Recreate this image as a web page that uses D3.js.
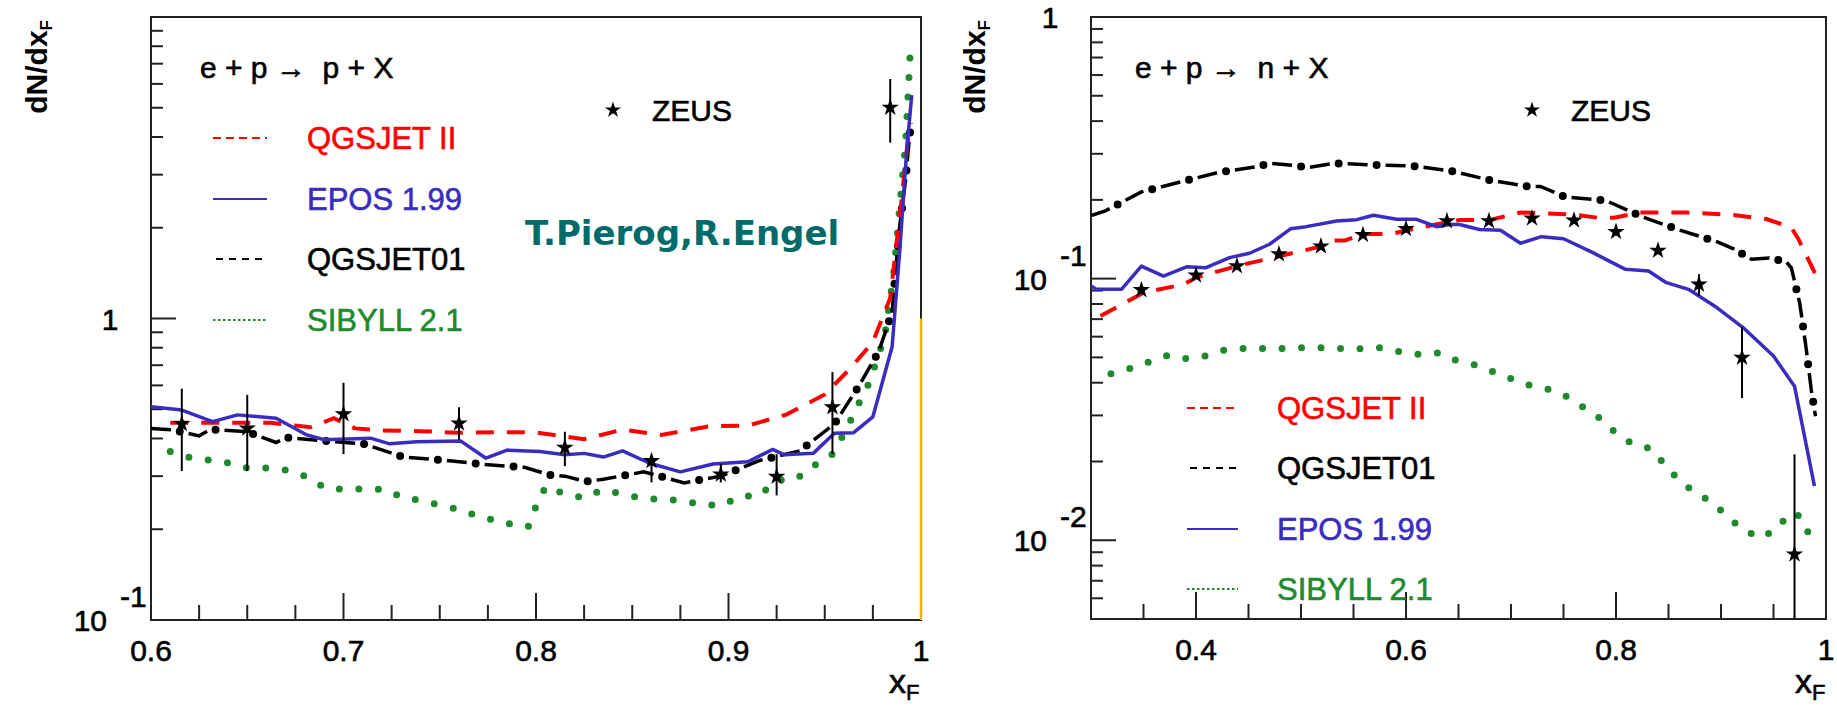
<!DOCTYPE html>
<html>
<head>
<meta charset="utf-8">
<script src="https://cdn.jsdelivr.net/npm/d3@7"></script>
<style>
  body { margin: 0; background: #fff; }
  svg text { font-family: "Liberation Sans", Arial, sans-serif; }
</style>
</head>
<body>
<svg id="chart" width="1837" height="711"></svg>
<script>
// ---------- data: left panel, e + p -> p + X ----------
const pZeusX  = [0.616, 0.650, 0.700, 0.760, 0.815, 0.860, 0.896, 0.925, 0.954, 0.984];
const pZeusY  = [0.447, 0.432, 0.482, 0.449, 0.373, 0.337, 0.304, 0.299, 0.508, 5.01];
const pZeusLo = [0.312, 0.312, 0.355, 0.396, 0.324, 0.286, 0.286, 0.259, 0.355, 3.83];
const pZeusHi = [0.585, 0.558, 0.612, 0.508, 0.421, 0.350, 0.329, 0.355, 0.664, 6.23];

const pQgsIIX = [0.610, 0.640, 0.662, 0.683, 0.695, 0.706, 0.720, 0.740, 0.760, 0.780, 0.800, 0.825, 0.845, 0.865, 0.890, 0.910, 0.930, 0.950, 0.963, 0.975, 0.984, 0.990, 0.994];
const pQgsIIY = [0.451, 0.451, 0.451, 0.436, 0.467, 0.432, 0.425, 0.423, 0.418, 0.420, 0.419, 0.398, 0.428, 0.411, 0.439, 0.441, 0.480, 0.560, 0.680, 0.835, 1.17, 2.50, 4.40];

const pEposX = [0.600, 0.616, 0.632, 0.645, 0.665, 0.681, 0.690, 0.714, 0.724, 0.738, 0.761, 0.774, 0.785, 0.802, 0.815, 0.825, 0.835, 0.845, 0.859, 0.875, 0.892, 0.910, 0.923, 0.929, 0.944, 0.955, 0.965, 0.975, 0.985, 0.989, 0.9926, 0.9952];
const pEposY = [0.510, 0.497, 0.455, 0.479, 0.467, 0.411, 0.396, 0.401, 0.384, 0.390, 0.392, 0.344, 0.366, 0.362, 0.353, 0.357, 0.347, 0.364, 0.331, 0.310, 0.329, 0.335, 0.368, 0.353, 0.357, 0.416, 0.418, 0.472, 0.806, 1.69, 3.62, 5.51];

const pQgs01X = [0.600, 0.611, 0.625, 0.631, 0.650, 0.665, 0.670, 0.690, 0.711, 0.731, 0.752, 0.773, 0.794, 0.807, 0.815, 0.826, 0.835, 0.856, 0.877, 0.896, 0.916, 0.937, 0.955, 0.967, 0.978, 0.985, 0.987, 0.989, 0.992, 0.994, 0.995];
const pQgs01Y = [0.432, 0.427, 0.408, 0.429, 0.421, 0.388, 0.403, 0.393, 0.383, 0.347, 0.339, 0.328, 0.321, 0.303, 0.300, 0.288, 0.293, 0.310, 0.285, 0.300, 0.338, 0.364, 0.447, 0.587, 0.776, 1.05, 1.49, 2.04, 2.88, 4.01, 4.44];

const pSibX = [0.610, 0.620, 0.630, 0.640, 0.650, 0.661, 0.671, 0.682, 0.690, 0.700, 0.711, 0.722, 0.731, 0.741, 0.751, 0.761, 0.771, 0.780, 0.789, 0.796, 0.800, 0.805, 0.814, 0.825, 0.834, 0.845, 0.855, 0.865, 0.876, 0.886, 0.897, 0.906, 0.916, 0.925, 0.935, 0.944, 0.954, 0.959, 0.964, 0.969, 0.974, 0.977, 0.981, 0.9856, 0.988, 0.990, 0.992, 0.9943];
const pSibY = [0.362, 0.346, 0.339, 0.332, 0.319, 0.319, 0.314, 0.297, 0.275, 0.271, 0.272, 0.271, 0.254, 0.249, 0.239, 0.232, 0.219, 0.214, 0.206, 0.204, 0.238, 0.277, 0.263, 0.254, 0.270, 0.262, 0.253, 0.251, 0.249, 0.241, 0.240, 0.258, 0.258, 0.291, 0.293, 0.324, 0.355, 0.404, 0.467, 0.544, 0.628, 0.732, 0.86, 1.37, 2.0, 2.8, 3.8, 7.4];

// ---------- data: right panel, e + p -> n + X ----------
const nZeusX  = [0.348, 0.400, 0.439, 0.479, 0.519, 0.559, 0.600, 0.639, 0.679, 0.720, 0.760, 0.800, 0.840, 0.879, 0.920, 0.970];
const nZeusY  = [0.0905, 0.103, 0.1117, 0.124, 0.133, 0.147, 0.155, 0.166, 0.166, 0.170, 0.167, 0.151, 0.128, 0.095, 0.0499, 0.00884];
const nZeusLo = [0.0905, 0.103, 0.1117, 0.124, 0.133, 0.147, 0.155, 0.166, 0.166, 0.170, 0.167, 0.146, 0.128, 0.0858, 0.035, 0.004];
const nZeusHi = [0.0905, 0.103, 0.1117, 0.124, 0.133, 0.147, 0.155, 0.166, 0.166, 0.170, 0.167, 0.157, 0.128, 0.104, 0.0655, 0.0213];

const nQgsIIX = [0.309, 0.350, 0.388, 0.400, 0.439, 0.480, 0.520, 0.531, 0.542, 0.559, 0.585, 0.613, 0.651, 0.680, 0.709, 0.759, 0.782, 0.798, 0.823, 0.867, 0.912, 0.943, 0.967, 0.974, 0.991];
const nQgsIIY = [0.0719, 0.0884, 0.095, 0.101, 0.1117, 0.122, 0.133, 0.140, 0.140, 0.148, 0.148, 0.1567, 0.1676, 0.1676, 0.179, 0.176, 0.171, 0.171, 0.179, 0.179, 0.175, 0.169, 0.157, 0.141, 0.102];

const nQgs01X = [0.300, 0.313, 0.348, 0.385, 0.421, 0.458, 0.470, 0.496, 0.507, 0.532, 0.569, 0.605, 0.643, 0.680, 0.716, 0.728, 0.752, 0.790, 0.824, 0.859, 0.896, 0.912, 0.929, 0.946, 0.962, 0.967, 0.975, 0.981, 0.986, 0.990];
const nQgs01Y = [0.174, 0.181, 0.2145, 0.234, 0.2545, 0.268, 0.276, 0.270, 0.266, 0.276, 0.272, 0.270, 0.258, 0.238, 0.225, 0.225, 0.205, 0.199, 0.173, 0.154, 0.1385, 0.130, 0.1185, 0.120, 0.116, 0.110, 0.0804, 0.0545, 0.0375, 0.0298];

const nEposX = [0.300, 0.305, 0.329, 0.348, 0.369, 0.391, 0.409, 0.432, 0.451, 0.470, 0.490, 0.505, 0.534, 0.553, 0.569, 0.591, 0.610, 0.629, 0.642, 0.651, 0.670, 0.690, 0.709, 0.729, 0.750, 0.778, 0.809, 0.831, 0.848, 0.869, 0.896, 0.921, 0.950, 0.970, 0.989];
const nEposY = [0.0937, 0.091, 0.091, 0.1117, 0.1023, 0.111, 0.110, 0.1203, 0.125, 0.1353, 0.155, 0.158, 0.166, 0.168, 0.1746, 0.1686, 0.1686, 0.158, 0.161, 0.161, 0.154, 0.153, 0.1365, 0.1447, 0.142, 0.1257, 0.1085, 0.107, 0.0965, 0.091, 0.0775, 0.065, 0.0506, 0.0388, 0.0161];

const nSibX = [0.319, 0.337, 0.355, 0.373, 0.391, 0.409, 0.427, 0.445, 0.464, 0.482, 0.501, 0.520, 0.539, 0.557, 0.575, 0.594, 0.613, 0.632, 0.649, 0.667, 0.684, 0.702, 0.720, 0.739, 0.756, 0.771, 0.787, 0.801, 0.817, 0.834, 0.847, 0.860, 0.875, 0.892, 0.906, 0.921, 0.937, 0.953, 0.965, 0.975, 0.984];
const nSibY = [0.0433, 0.0453, 0.048, 0.0509, 0.0494, 0.0506, 0.0533, 0.0541, 0.0541, 0.0541, 0.0544, 0.0544, 0.054, 0.054, 0.0544, 0.0526, 0.0513, 0.052, 0.0484, 0.0467, 0.0439, 0.0412, 0.0388, 0.0375, 0.035, 0.0318, 0.0288, 0.0254, 0.0232, 0.0224, 0.0193, 0.017, 0.0152, 0.014, 0.0123, 0.011, 0.0102, 0.011, 0.0127, 0.0124, 0.0105];

// ---------- ticks / labels ----------
const leftXTickVals   = [0.6, 0.7, 0.8, 0.9, 1.0];
const leftXTickLabels = ['0.6', '0.7', '0.8', '0.9', '1'];
const leftXMajor      = [0.7, 0.8, 0.9];
const rightXTickVals   = [0.4, 0.6, 0.8, 1.0];
const rightXTickLabels = ['0.4', '0.6', '0.8', '1'];
const rightXMajor      = [0.4, 0.6, 0.8];
const leftYTickVals  = [1, 0.1];
const leftYTickExp   = [null, '-1'];
const rightYTickVals = [1, 0.1, 0.01];
const rightYTickExp  = [null, '-1', '-2'];

const leftLegend  = ['QGSJET II', 'EPOS 1.99', 'QGSJET01', 'SIBYLL 2.1'];
const rightLegend = ['QGSJET II', 'QGSJET01', 'EPOS 1.99', 'SIBYLL 2.1'];

const COLORS = {
    'QGSJET II':  '#ff0000',
    'EPOS 1.99':  '#3a2cbf',
    'QGSJET01':   '#000000',
    'SIBYLL 2.1': '#1f8a2c'
};

const svg = d3.select('#chart');
const FONT = '"Liberation Sans", Arial, sans-serif';

function drawCurve(g, xs, ys, model, x, y) {
    const pts  = d3.zip(xs, ys);
    const line = d3.line().x(d => x(d[0])).y(d => y(d[1]));
    const c    = COLORS[model];
    if (model === 'QGSJET II') {
        g.append('path').attr('d', line(pts)).attr('fill', 'none')
            .attr('stroke', c).attr('stroke-width', 4).attr('stroke-dasharray', '18 13');
    } else if (model === 'EPOS 1.99') {
        g.append('path').attr('d', line(pts)).attr('fill', 'none')
            .attr('stroke', c).attr('stroke-width', 3.5).attr('stroke-linejoin', 'round');
    } else if (model === 'QGSJET01') {
        g.append('path').attr('d', line(pts)).attr('fill', 'none')
            .attr('stroke', c).attr('stroke-width', 3.5).attr('stroke-dasharray', '20 18');
        g.append('path').attr('d', line(pts)).attr('fill', 'none')
            .attr('stroke', c).attr('stroke-width', 8).attr('stroke-linecap', 'round')
            .attr('stroke-dasharray', '0 38').attr('stroke-dashoffset', -29);
    } else {
        g.append('path').attr('d', line(pts)).attr('fill', 'none')
            .attr('stroke', c).attr('stroke-width', 7).attr('stroke-linecap', 'round')
            .attr('stroke-dasharray', '0 19.5');
    }
}

function legendSample(g, model, x1, x2, yy) {
    const c = COLORS[model];
    const l = g.append('line').attr('x1', x1).attr('x2', x2).attr('y1', yy).attr('y2', yy)
        .attr('stroke', c).attr('stroke-width', 2);
    if (model === 'QGSJET II') l.attr('stroke-dasharray', '8 5');
    if (model === 'QGSJET01')  l.attr('stroke-dasharray', '7 6').attr('x1', x1 + 3);
    if (model === 'SIBYLL 2.1') l.attr('stroke-dasharray', '2.5 2.5');
}

function text(g, x, y, str, size, opts = {}) {
    return g.append('text')
        .attr('x', x).attr('y', y)
        .attr('text-anchor', opts.anchor || 'start')
        .style('font-family', opts.family || FONT)
        .style('font-size', size + 'px')
        .style('font-weight', opts.weight || 'normal')
        .style('fill', opts.fill || '#000')
        .style('stroke', opts.fill || '#000')
        .style('stroke-width', opts.sw === undefined ? 0.6 : opts.sw)
        .style('white-space', 'pre')
        .text(str);
}

function drawPanel(p) {
    const x = d3.scaleLinear().domain(p.xDomain).range([p.left, p.right]);
    const y = d3.scaleLog().domain(p.yDomain).range([p.bottom, p.top]);
    const g = svg.append('g');

    g.append('clipPath').attr('id', 'clip' + p.id)
        .append('rect').attr('x', p.left).attr('y', p.top)
        .attr('width', p.right - p.left).attr('height', p.bottom - p.top);

    // x ticks (inside, pointing up)
    const nMinor = Math.round((p.xDomain[1] - p.xDomain[0]) / p.xMinorStep);
    d3.range(1, nMinor).map(i => p.xDomain[0] + i * p.xMinorStep).forEach(v => {
        const major = p.xMajor.some(m => Math.abs(m - v) < 1e-6);
        g.append('line').attr('x1', x(v)).attr('x2', x(v))
            .attr('y1', p.bottom).attr('y2', p.bottom - (major ? 27 : 15))
            .attr('stroke', '#222').attr('stroke-width', 2);
    });

    // y ticks (log)
    const k0 = Math.floor(Math.log10(p.yDomain[0])), k1 = Math.ceil(Math.log10(p.yDomain[1]));
    d3.range(k0, k1 + 1).forEach(k => {
        d3.range(1, 10).forEach(m => {
            const v = m * Math.pow(10, k);
            if (v <= p.yDomain[0] * 1.0001 || v >= p.yDomain[1] * 0.9999) return;
            g.append('line').attr('x1', p.left).attr('x2', p.left + (m === 1 ? 25 : 12))
                .attr('y1', y(v)).attr('y2', y(v))
                .attr('stroke', '#222').attr('stroke-width', 2);
        });
    });

    // frame
    g.append('rect').attr('x', p.left).attr('y', p.top)
        .attr('width', p.right - p.left).attr('height', p.bottom - p.top)
        .attr('fill', 'none').attr('stroke', '#222').attr('stroke-width', 2);
    if (p.orangeEdge) {
        g.append('line').attr('x1', p.right).attr('x2', p.right)
            .attr('y1', y(p.orangeEdge)).attr('y2', p.bottom)
            .attr('stroke', '#f0b400').attr('stroke-width', 2.5);
    }

    // x tick labels
    p.xTickVals.forEach((v, i) => {
        text(g, x(v), p.bottom + 41, p.xTickLabels[i], 30, { anchor: 'middle' });
    });

    // y tick labels
    p.yTickVals.forEach((v, i) => {
        const yy = y(v);
        if (p.yTickExp[i] === null) {
            text(g, p.left - 41, yy + 11, '1', 30, { anchor: 'middle' });
        } else {
            text(g, p.left - 44, yy + 11, '10', 30, { anchor: 'end' });
            text(g, p.left - 31, yy - 13, p.yTickExp[i], 30);
        }
    });

    // axis titles
    const yt = g.append('text')
        .attr('transform', `translate(${p.yTitleX},20) rotate(-90)`)
        .attr('text-anchor', 'end')
        .style('font-family', FONT).style('font-size', '30px').style('font-weight', 'bold');
    yt.append('tspan').text('dN/dx');
    yt.append('tspan').attr('dy', 5).style('font-size', '17px').text('F');

    const xt = g.append('text').attr('x', p.xTitleX).attr('y', 693)
        .style('font-family', FONT).style('font-size', '34px')
        .style('stroke', '#000').style('stroke-width', 0.6);
    xt.append('tspan').text('x');
    xt.append('tspan').attr('dy', 7).style('font-size', '22px').text('F');

    // curves
    const cg = g.append('g').attr('clip-path', `url(#clip${p.id})`);
    p.series.forEach(s => drawCurve(cg, s.xs, s.ys, s.model, x, y));

    // ZEUS data
    d3.zip(p.zeus.xs, p.zeus.ys, p.zeus.lo, p.zeus.hi).forEach(([xv, yv, lo, hi]) => {
        if (hi > lo * 1.0001) {
            cg.append('line').attr('x1', x(xv)).attr('x2', x(xv))
                .attr('y1', y(Math.max(lo, p.yDomain[0] * 0.5))).attr('y2', y(hi))
                .attr('stroke', '#000').attr('stroke-width', 2);
        }
        cg.append('path').attr('d', d3.symbol(d3.symbolStar, 95)())
            .attr('transform', `translate(${x(xv)},${y(yv)})`).attr('fill', '#000');
    });

    // legend
    text(g, p.reacX, 78, p.reaction, 30);
    g.append('path').attr('d', d3.symbol(d3.symbolStar, 80)())
        .attr('transform', `translate(${p.zeusLegX},110)`).attr('fill', '#000');
    text(g, p.zeusLegX + 39, 121, 'ZEUS', 30);
    p.legend.forEach((m, i) => {
        const yy = p.legY[i];
        legendSample(g, m, p.legX1, p.legX2, yy);
        text(g, p.legTextX, yy + 11, m, 31, { fill: COLORS[m] });
    });
}

drawPanel({
    id: 'L', left: 151, right: 921, top: 17, bottom: 620,
    xDomain: [0.6, 1.0], yDomain: [0.1, 10], xMinorStep: 0.025, xMajor: leftXMajor,
    xTickVals: leftXTickVals, xTickLabels: leftXTickLabels,
    yTickVals: leftYTickVals, yTickExp: leftYTickExp,
    yTitleX: 47, xTitleX: 889, orangeEdge: 1,
    series: [
        { model: 'SIBYLL 2.1', xs: pSibX,   ys: pSibY },
        { model: 'QGSJET01',   xs: pQgs01X, ys: pQgs01Y },
        { model: 'QGSJET II',  xs: pQgsIIX, ys: pQgsIIY },
        { model: 'EPOS 1.99',  xs: pEposX,  ys: pEposY }
    ],
    zeus: { xs: pZeusX, ys: pZeusY, lo: pZeusLo, hi: pZeusHi },
    reaction: 'e + p \u2192  p + X', reacX: 200, zeusLegX: 613,
    legend: leftLegend, legY: [138, 199, 259, 320], legX1: 213, legX2: 267, legTextX: 307
});

drawPanel({
    id: 'R', left: 1091, right: 1826, top: 17, bottom: 619,
    xDomain: [0.3, 1.0], yDomain: [0.005, 1], xMinorStep: 0.05, xMajor: rightXMajor,
    xTickVals: rightXTickVals, xTickLabels: rightXTickLabels,
    yTickVals: rightYTickVals, yTickExp: rightYTickExp,
    yTitleX: 985, xTitleX: 1795, orangeEdge: null,
    series: [
        { model: 'SIBYLL 2.1', xs: nSibX,   ys: nSibY },
        { model: 'QGSJET01',   xs: nQgs01X, ys: nQgs01Y },
        { model: 'QGSJET II',  xs: nQgsIIX, ys: nQgsIIY },
        { model: 'EPOS 1.99',  xs: nEposX,  ys: nEposY }
    ],
    zeus: { xs: nZeusX, ys: nZeusY, lo: nZeusLo, hi: nZeusHi },
    reaction: 'e + p \u2192  n + X', reacX: 1135, zeusLegX: 1532,
    legend: rightLegend, legY: [408, 468, 529, 589], legX1: 1187, legX2: 1238, legTextX: 1277
});

// credit
text(svg, 525, 245, 'T.Pierog,R.Engel', 34,
     { family: '"DejaVu Sans", Verdana, sans-serif', weight: 'bold', fill: '#006b68', sw: 0 });
</script>
</body>
</html>
